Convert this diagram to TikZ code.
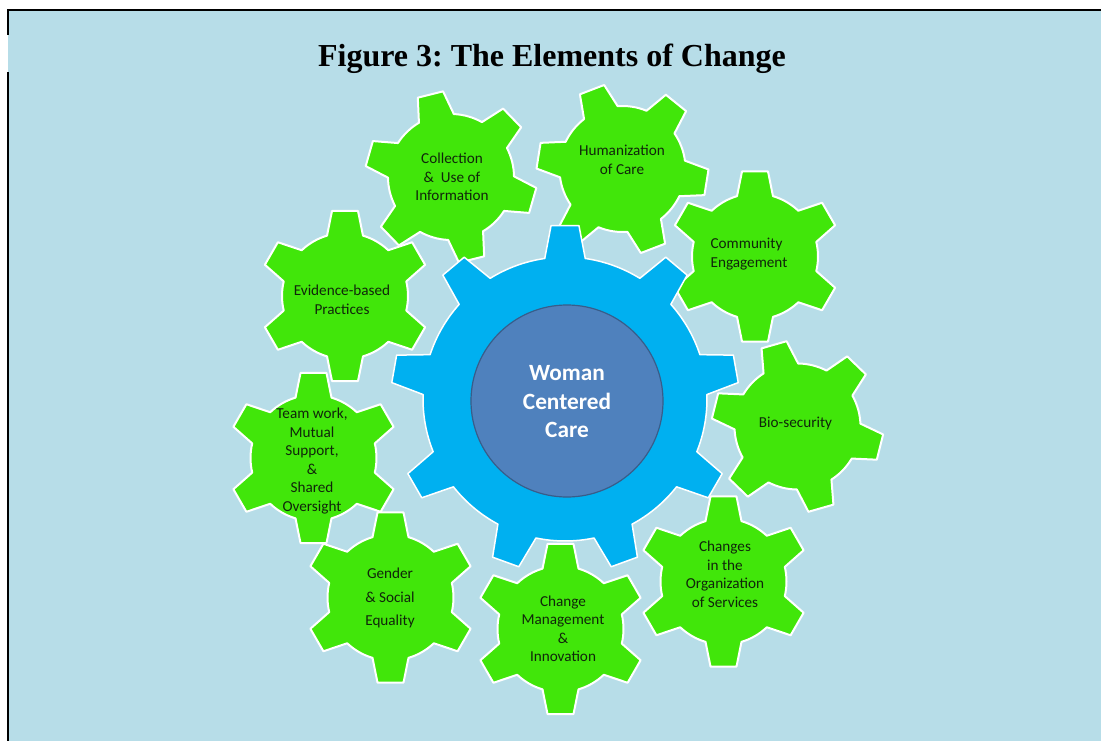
\documentclass[tikz,border=0pt]{standalone}
\usepackage{fontspec}
\setmainfont{Liberation Serif}
\newfontfamily\calib{Carlito}
\definecolor{bgblue}{HTML}{B7DDE8}
\definecolor{gearGreen}{HTML}{41E60A}
\definecolor{gearBlue}{HTML}{00B0F0}
\definecolor{hubBlue}{HTML}{4F81BD}
\definecolor{hubEdge}{HTML}{385D8A}
\definecolor{labelInk}{HTML}{10260A}
% #1 style, #2 centre, #3 teeth, #4 angle of first tooth, #5 body radius, #6 tip radius, #7 base half-angle, #8 tip half-angle
\newcommand{\drawgear}[8]{%
  \begin{scope}[shift={#2}, yscale=-1]
    \pgfmathsetmacro\gstep{360/#3}
    \pgfmathtruncatemacro\glast{#3-1}
    \draw[#1] ({#4-#7}:#5) \foreach \i in {0,...,\glast} {
        -- ({#4+\i*\gstep-#8}:#6) -- ({#4+\i*\gstep+#8}:#6) -- ({#4+\i*\gstep+#7}:#5)
        arc[start angle={#4+\i*\gstep+#7}, end angle={#4+(\i+1)*\gstep-#7}, radius=#5]
      } -- cycle;
  \end{scope}}
\tikzset{
  greengear/.style={fill=gearGreen, draw=white, line width=2pt, line join=round},
  bluegear/.style={fill=gearBlue, draw=white, line width=1.5pt, line join=round},
  glabel/.style={font=\calib\fontsize{15.2}{18.5}\selectfont, text=labelInk, align=center, inner sep=0pt},
  hublabel/.style={font=\calib\bfseries\fontsize{23.3}{28.5}\selectfont, text=white, align=center, inner sep=0pt},
  frame/.style={draw=black, line width=2.2pt}
}
\begin{document}
\frenchspacing
\begin{tikzpicture}[x=1pt, y=-1pt]
\useasboundingbox (0,0) rectangle (1101,741);
\fill[white] (0,0) rectangle (1101,741);
\fill[bgblue] (8,10) rectangle (1101,741);
\coordinate (tl) at (8,10);
\coordinate (tr) at (1101,10);
\coordinate (gapa) at (8,35);
\coordinate (gapb) at (8,72);
\coordinate (bl) at (8,741);
\draw[frame] (tr) -- (tl) -- (gapa);
\draw[frame] (gapb) -- (bl);

\node[font=\bfseries\fontsize{32}{38}\selectfont, anchor=base] (title) at (552,67) {Figure 3: The Elements of Change};

% green gears
\drawgear{greengear}{(451,177)}{6}{104}{63}{86}{16.6}{8.7}
\drawgear{greengear}{(622.5,169)}{6}{111}{63}{86}{16.6}{8.7}
\drawgear{greengear}{(755,256.5)}{6}{90}{63}{86}{16.6}{8.7}
\drawgear{greengear}{(345,296)}{6}{90}{63}{86}{16.6}{8.7}
\drawgear{greengear}{(797.5,426.5)}{6}{106}{63}{86}{16.6}{8.7}
\drawgear{greengear}{(313.5,458)}{6}{90}{63}{86}{16.6}{8.7}
\drawgear{greengear}{(390.5,597.5)}{6}{90}{63}{86}{16.6}{8.7}
\drawgear{greengear}{(560.5,629)}{6}{90}{63}{86}{16.6}{8.7}
\drawgear{greengear}{(723.5,581.5)}{6}{90}{63}{86}{16.6}{8.7}

% central gear
\drawgear{bluegear}{(565,399)}{9}{90}{142}{174}{8.2}{4.6}
\node[circle, minimum size=192pt, fill=hubBlue, draw=hubEdge, line width=1.2pt] (hub) at (567,401) {};
\node[hublabel] (hubtext) at (567,402) {Woman\\Centered\\Care};

% labels
\node[glabel] (collection) at (452,177) {Collection\\\&\ \ Use of\\Information};
\node[glabel] (humanization) at (622,160) {Humanization\\of Care};
\node[glabel, align=left] (community) at (749,254) {Community\\Engagement};
\node[glabel] (evidence) at (342,300) {Evidence-based\\Practices};
\node[glabel] (teamwork) at (312,461) {Team work,\\Mutual\\Support,\\\&\\Shared\\Oversight};
\node[glabel] (biosecurity) at (795.5,423) {Bio-security};
\node[glabel, font=\calib\fontsize{15.2}{23.3}\selectfont] (gender) at (390,598) {Gender\\\& Social\\Equality};
\node[glabel] (changemgmt) at (563,629) {Change\\Management\\\&\\Innovation};
\node[glabel] (organization) at (725,574.5) {Changes\\in the\\Organization\\of Services};
\end{tikzpicture}
\end{document}
